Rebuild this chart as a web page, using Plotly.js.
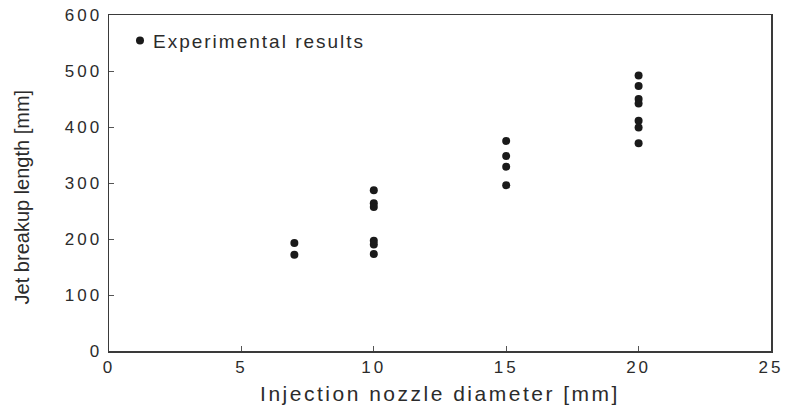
<!DOCTYPE html>
<html>
<head>
<meta charset="utf-8">
<script src="https://cdn.plot.ly/plotly-3.0.1.min.js"></script>
<style>
  html, body { margin: 0; padding: 0; background: #fff; }
  #chart { width: 790px; height: 412px; }
  /* wide, airy lettering for the labels */
  #chart .xtick text, #chart .ytick text { letter-spacing: 3px; }
  .legendtext { letter-spacing: 2px; transform: translateX(-7px); }
  #chart .g-xtitle text { letter-spacing: 2.5px; }
</style>
</head>
<body>
<div id="chart"></div>
<script>
// Nozzle diameter [mm] for each measurement
const diameters = [7, 7, 10, 10, 10, 10, 10, 10, 15, 15, 15, 15, 20, 20, 20, 20, 20, 20, 20];
// Measured jet breakup length [mm]
const breakupLengths = [193, 172, 287, 264, 257, 197, 190, 173, 375, 348, 329, 296, 492, 473, 450, 442, 411, 399, 371];

const xTicks = [0, 5, 10, 15, 20, 25];
const yTicks = [0, 100, 200, 300, 400, 500, 600];

const family = 'Liberation Sans, Arial, sans-serif';
const ink = '#2b2b2b';

const trace = {
  x: diameters,
  y: breakupLengths,
  type: 'scatter',
  mode: 'markers',
  name: 'Experimental results',
  marker: { symbol: 'circle', size: 8, color: '#1a1a1a' }
};

const layout = {
  width: 790,
  height: 412,
  margin: { l: 109, r: 19, t: 15, b: 61 },
  paper_bgcolor: '#fff',
  plot_bgcolor: '#fff',
  font: { family: family, size: 17, color: ink },
  showlegend: true,
  legend: {
    x: 0.0166, y: 0.98, xanchor: 'left', yanchor: 'top',
    bgcolor: 'rgba(0,0,0,0)', font: { family: family, size: 19, color: ink },
    itemwidth: 30
  },
  xaxis: {
    range: [0, 25],
    tickvals: xTicks,
    ticks: 'inside', ticklen: 5, tickcolor: '#555',
    tickfont: { family: family, size: 17, color: ink },
    showgrid: false, zeroline: false,
    showline: true, linecolor: '#3a3a3a', linewidth: 1.5, mirror: true,
    title: { text: 'Injection nozzle diameter [mm]', font: { family: family, size: 21, color: ink }, standoff: 10 }
  },
  yaxis: {
    range: [0, 600],
    tickvals: yTicks,
    ticks: 'inside', ticklen: 5, tickcolor: '#555',
    tickfont: { family: family, size: 17, color: ink },
    ticklabelstandoff: 2,
    showgrid: false, zeroline: false,
    showline: true, linecolor: '#3a3a3a', linewidth: 1.5, mirror: true
  },
  // y-axis title, set slightly below the plot's vertical centre
  annotations: [{
    text: 'Jet breakup length [mm]',
    xref: 'paper', yref: 'paper',
    x: -0.131, y: 0.458,
    xanchor: 'center', yanchor: 'middle',
    textangle: -90, showarrow: false,
    font: { family: family, size: 20, color: ink }
  }]
};

Plotly.newPlot('chart', [trace], layout, { displayModeBar: false, staticPlot: true });
</script>
</body>
</html>
